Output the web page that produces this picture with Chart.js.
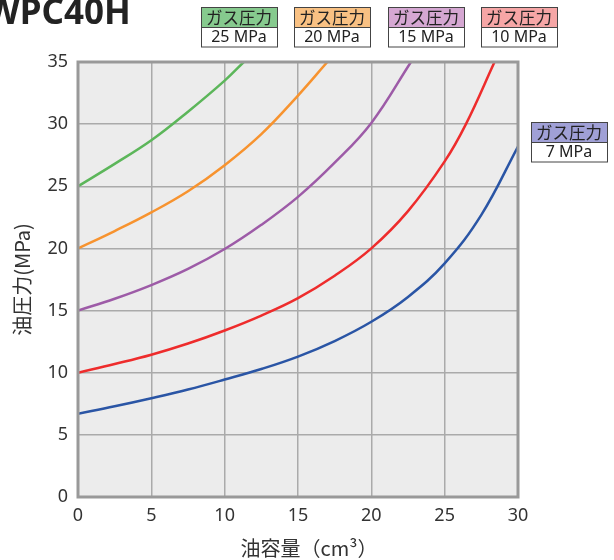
<!DOCTYPE html>
<html>
<head>
<meta charset="utf-8">
<script src="https://cdn.jsdelivr.net/npm/chart.js@4.4.1/dist/chart.umd.min.js"></script>
<style>
  html, body { margin: 0; padding: 0; background: #fff; }
  #wrap { position: relative; width: 614px; height: 560px; }
</style>
</head>
<body>
<div id="wrap"><canvas id="chart"></canvas></div>
<script>
// values (oil volume cm3 -> oil pressure MPa)
const vol25 = [0, 2.5, 5, 7.5, 10, 11.3]
const oil25 = [25, 26.8, 28.7, 31.0, 33.5, 35]

const vol20 = [0, 2.5, 5, 7.5, 10, 12.5, 15, 17]
const oil20 = [20, 21.4, 22.9, 24.6, 26.7, 29.2, 32.3, 35]

const vol15 = [0, 2.5, 5, 7.5, 10, 12.5, 15, 17.5, 20, 22.7]
const oil15 = [15, 15.95, 17.05, 18.35, 19.95, 21.9, 24.15, 26.9, 30.1, 35]

const vol10 = [0, 2.5, 5, 7.5, 10, 12.5, 15, 17.5, 20, 22.5, 25, 26.45, 28.4]
const oil10 = [10, 10.7, 11.45, 12.35, 13.4, 14.6, 16.0, 17.8, 20.0, 23.0, 27.0, 30, 35]

const vol7 = [0, 2.5, 5, 7.5, 10, 12.5, 15, 17.5, 20, 22.5, 25, 27.5, 30]
const oil7 = [6.7, 7.3, 7.95, 8.65, 9.45, 10.3, 11.3, 12.55, 14.1, 16.1, 18.8, 22.7, 28.2]

const gasLabels = ['25 MPa', '20 MPa', '15 MPa', '10 MPa', '7 MPa']
const gasHeader = 'ガス圧力'

const xTitle = '油容量（cm³）'
const yTitle = '油圧力(MPa)'
const chartTitle = 'WPC40H'

const lineColors = ['#5cb65a', '#f7932f', '#9d5ba7', '#ee2c2c', '#2a55a5']
const headerColors = ['#86ca8e', '#f9c183', '#d5a7d2', '#f6a6a6', '#a0a0d6']

const series = [
  [vol25, oil25], [vol20, oil20], [vol15, oil15], [vol10, oil10], [vol7, oil7]
]

const toPoints = (xs, ys) => xs.map((x, i) => ({ x, y: ys[i] }))

const cjk = "'Noto Sans CJK JP', 'Noto Sans', sans-serif"
const plain = "'Noto Sans', sans-serif"

// plot background + frame, title, x title and gas-pressure boxes
const decor = {
  id: 'decor',
  beforeDraw(chart) {
    const { ctx, chartArea: a } = chart
    ctx.save()
    ctx.fillStyle = '#ececec'
    ctx.fillRect(a.left, a.top, a.right - a.left, a.bottom - a.top)
    ctx.restore()
  },
  afterDatasetsDraw(chart) {
    const { ctx, chartArea: a } = chart
    ctx.save()
    ctx.strokeStyle = '#999'
    ctx.lineWidth = 3
    ctx.strokeRect(a.left, a.top, a.right - a.left, a.bottom - a.top)
    ctx.restore()
  },
  afterDraw(chart) {
    const { ctx } = chart
    ctx.save()
    ctx.fillStyle = '#222'
    ctx.font = "bold 35px 'Noto Sans', sans-serif"
    ctx.textBaseline = 'alphabetic'
    ctx.textAlign = 'left'
    ctx.fillText(chartTitle, -14, 24)

    // x axis title sits a little right of centre in the original
    ctx.fillStyle = '#333'
    ctx.font = '20px ' + cjk
    ctx.textAlign = 'center'
    ctx.textBaseline = 'middle'
    ctx.fillText(xTitle, 309, 548)

    const boxes = [
      [201, 7], [294, 7], [388, 7], [481, 7], [531, 122]
    ]
    boxes.forEach(([bx, by], i) => {
      const w = 76, h1 = 20, h2 = 19.5
      ctx.fillStyle = headerColors[i]
      ctx.fillRect(bx, by, w, h1)
      ctx.fillStyle = '#fff'
      ctx.fillRect(bx, by + h1, w, h2)
      ctx.strokeStyle = '#444'
      ctx.lineWidth = 1
      ctx.strokeRect(bx + 0.5, by + 0.5, w, h1 + h2)
      ctx.beginPath()
      ctx.moveTo(bx, by + h1 + 0.5)
      ctx.lineTo(bx + w, by + h1 + 0.5)
      ctx.stroke()
      ctx.fillStyle = '#222'
      ctx.textAlign = 'center'
      ctx.textBaseline = 'middle'
      ctx.font = '16.5px ' + cjk
      ctx.fillText(gasHeader, bx + w / 2, by + h1 / 2 + 1)
      ctx.font = '16px ' + plain
      ctx.fillText(gasLabels[i], bx + w / 2, by + h1 + h2 / 2 + 1)
    })
    ctx.restore()
  }
}

new Chart(document.getElementById('chart'), {
  type: 'line',
  data: {
    datasets: series.map(([xs, ys], i) => ({
      label: gasLabels[i],
      data: toPoints(xs, ys),
      borderColor: lineColors[i],
      borderWidth: 2.5,
      pointRadius: 0,
      fill: false,
      tension: 0.4
    }))
  },
  options: {
    responsive: true,
    maintainAspectRatio: false,
    animation: false,
    layout: { padding: { top: 62, right: 96, left: 0, bottom: 0 } },
    plugins: {
      legend: { display: false },
      tooltip: { enabled: false }
    },
    scales: {
      x: {
        type: 'linear',
        min: 0,
        max: 30,
        afterFit: (scale) => { scale.height = 63 },
        ticks: { stepSize: 5, padding: 8, color: '#333', font: { family: plain, size: 18 } },
        grid: { color: '#aaa', lineWidth: 1.5, drawTicks: false },
        border: { display: false }
      },
      y: {
        min: 0,
        max: 35,
        afterFit: (scale) => { scale.width = 78 },
        ticks: { stepSize: 5, padding: 10, color: '#333', font: { family: plain, size: 18 } },
        grid: { color: '#aaa', lineWidth: 1.5, drawTicks: false },
        border: { display: false },
        title: { display: true, text: yTitle, color: '#333', font: { family: cjk, size: 20 }, padding: { top: 10 } }
      }
    }
  },
  plugins: [decor]
})
</script>
</body>
</html>
